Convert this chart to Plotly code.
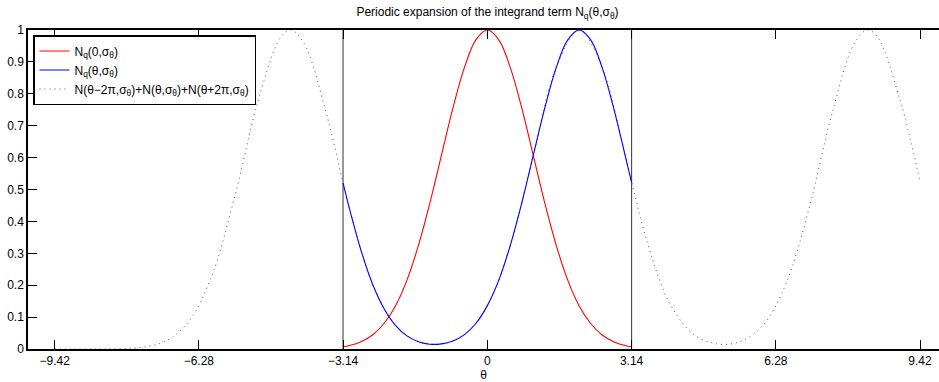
import plotly.graph_objects as go

# --- data ---
theta_main = [-3.14, -3.0, -2.75, -2.5, -2.25, -2.0, -1.75, -1.5, -1.25, -1.0, -0.75, -0.5, -0.25,
              0.0, 0.25, 0.5, 0.75, 1.0, 1.25, 1.5, 1.75, 2.0, 2.25, 2.5, 2.75, 3.0, 3.14]
red_vals = [0.007, 0.011, 0.023, 0.044, 0.080, 0.135, 0.216, 0.325, 0.458, 0.607, 0.755, 0.882, 0.969,
            1.000, 0.969, 0.882, 0.755, 0.607, 0.458, 0.325, 0.216, 0.135, 0.080, 0.044, 0.023, 0.011, 0.007]
blue_vals = [0.520, 0.439, 0.309, 0.204, 0.127, 0.074, 0.041, 0.023, 0.015, 0.016, 0.025, 0.045, 0.080,
             0.136, 0.216, 0.325, 0.458, 0.607, 0.755, 0.882, 0.969, 1.000, 0.969, 0.882, 0.755, 0.607, 0.522]

theta_wide = [-9.42, -9.0, -8.5, -8.0, -7.5, -7.0, -6.5, -6.0, -5.5, -5.0, -4.5, -4.28, -4.0, -3.5,
              -3.0, -2.5, -2.0, -1.5, -1.0, -0.5, 0.0, 0.5, 1.0, 1.5, 2.0, 2.5, 3.0, 3.5, 4.0, 4.5,
              5.0, 5.5, 6.0, 6.5, 7.0, 7.5, 8.0, 8.28, 8.5, 9.0, 9.42]
dotted_vals = [0.000, 0.000, 0.000, 0.001, 0.006, 0.025, 0.086, 0.229, 0.477, 0.773, 0.977, 1.000, 0.961, 0.736,
               0.439, 0.204, 0.074, 0.023, 0.016, 0.045, 0.136, 0.325, 0.607, 0.882, 1.000, 0.882, 0.607, 0.325, 0.135, 0.045,
               0.016, 0.023, 0.074, 0.204, 0.439, 0.736, 0.961, 1.000, 0.977, 0.773, 0.524]

boundaries = [-3.1416, 3.1416]
boundary_span = [0.0, 1.0]

x_tickvals = [-9.42, -6.28, -3.14, 0, 3.14, 6.28, 9.42]
x_ticktext = ["\u22129.42", "\u22126.28", "\u22123.14", "0", "3.14", "6.28", "9.42"]
y_tickvals = [0, 0.1, 0.2, 0.3, 0.4, 0.5, 0.6, 0.7, 0.8, 0.9, 1]
y_ticktext = ["0", "0.1", "0.2", "0.3", "0.4", "0.5", "0.6", "0.7", "0.8", "0.9", "1"]

legend_names = ["N<sub>q</sub>(0,σ<sub>θ</sub>)",
                "N<sub>q</sub>(θ,σ<sub>θ</sub>)",
                "N(θ\u22122π,σ<sub>θ</sub>)+N(θ,σ<sub>θ</sub>)+N(θ+2π,σ<sub>θ</sub>)"]

FONT = "Liberation Sans, Arial, Helvetica, sans-serif"
FS = 12

fig = go.Figure()

# vertical boundary lines
bx, by = [], []
for b in boundaries:
    bx += [b, b, None]
    by += [boundary_span[0], boundary_span[1], None]
fig.add_trace(go.Scatter(x=bx, y=by, mode="lines", line=dict(color="#333333", width=1),
                         showlegend=False, hoverinfo="skip"))

fig.add_trace(go.Scatter(x=theta_wide, y=dotted_vals, mode="lines", name=legend_names[2],
                         line=dict(color="#555555", width=1, dash="1px,4px", shape="spline"),
                         legendrank=3))
fig.add_trace(go.Scatter(x=theta_main, y=red_vals, mode="lines", name=legend_names[0],
                         line=dict(color="#ff0000", width=1.1, shape="spline"), legendrank=1))
fig.add_trace(go.Scatter(x=theta_main, y=blue_vals, mode="lines", name=legend_names[1],
                         line=dict(color="#0000ff", width=1.1, shape="spline"), legendrank=2))

W, H = 939, 382
ml, mr, mt, mb = 28, 0, 30, 33
pw = W - ml - mr
ph = H - mt - mb

tickfont = dict(family=FONT, size=FS, color="black")

fig.update_layout(
    width=W, height=H,
    margin=dict(l=ml, r=mr, t=mt, b=mb),
    paper_bgcolor="white", plot_bgcolor="white",
    font=dict(family=FONT, size=FS, color="black"),
    title=dict(text="Periodic expansion of the integrand term N<sub>q</sub>(θ,σ<sub>θ</sub>)",
               x=(487.5 - ml) / pw, xref="paper", xanchor="center",
               y=1 - 12 / H, yref="container", yanchor="middle",
               font=dict(family=FONT, size=FS, color="black")),
    showlegend=True,
    legend=dict(x=(33 - ml) / pw, y=(H - mb - 35) / ph, xanchor="left", yanchor="top",
                bgcolor="white", bordercolor="black", borderwidth=1.5,
                font=dict(family=FONT, size=FS, color="black"),
                itemwidth=30, tracegroupgap=0, traceorder="normal"),
    xaxis=dict(range=[-10, 9.833], tickvals=x_tickvals, ticktext=x_ticktext, tickfont=tickfont,
               ticks="inside", ticklen=9, tickcolor="black", tickwidth=1,
               showline=True, linecolor="black", linewidth=1.5, mirror="ticks",
               showgrid=False, zeroline=False,
               title=dict(text="θ", standoff=1, font=dict(family=FONT, size=FS, color="black"))),
    yaxis=dict(range=[0, 1], tickvals=y_tickvals, ticktext=y_ticktext, tickfont=tickfont,
               ticks="inside", ticklen=9, tickcolor="black", tickwidth=1,
               showline=True, linecolor="black", linewidth=1.5, mirror=False,
               showgrid=False, zeroline=False),
)

fig.write_html("out.html")
